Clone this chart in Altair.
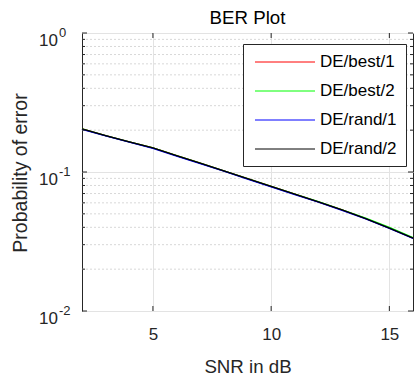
import altair as alt
import pandas as pd

# ---- data ----
snr = [2, 3, 4, 5, 6, 7, 8, 9, 10, 11, 12, 13, 14, 15, 16]
best1 = [0.204, 0.183, 0.165, 0.149, 0.131, 0.116, 0.102, 0.0896, 0.0788, 0.0692, 0.0610, 0.0534, 0.0463, 0.0396, 0.0335]
best2 = [0.204, 0.183, 0.165, 0.149, 0.131, 0.116, 0.102, 0.0895, 0.0787, 0.0692, 0.0611, 0.0535, 0.0466, 0.0399, 0.0338]
rand1 = [0.203, 0.182, 0.164, 0.148, 0.130, 0.115, 0.1015, 0.0890, 0.0782, 0.0688, 0.0606, 0.0530, 0.0460, 0.0393, 0.0333]
rand2 = [0.204, 0.183, 0.165, 0.149, 0.131, 0.116, 0.102, 0.0895, 0.0787, 0.0692, 0.0610, 0.0533, 0.0462, 0.0395, 0.0334]
series = ["DE/best/1", "DE/best/2", "DE/rand/1", "DE/rand/2"]
colors = ["#ff0000", "#00ff00", "#0000ff", "#000000"]

x_ticks = [5, 10, 15]
y_major = [0.01, 0.1, 1]
y_exp = ["-2", "-1", "0"]
y_minor = [0.02, 0.03, 0.04, 0.05, 0.06, 0.07, 0.08, 0.09,
           0.2, 0.3, 0.4, 0.5, 0.6, 0.7, 0.8, 0.9]

rows = []
for name, vals in zip(series, [best1, best2, rand1, rand2]):
    for s, v in zip(snr, vals):
        rows.append({"snr": s, "ber": v, "series": name})
df = pd.DataFrame(rows)

FONT = "Liberation Sans"
AX = "#262626"
GRID = "#e3e3e3"
W, H = 331, 278

xs = alt.Scale(domain=[2, 16], nice=False, zero=False)
ys = alt.Scale(type="log", domain=[0.01, 1], nice=False)

x_axis = alt.Axis(
    values=x_ticks, grid=True, gridColor=GRID, ticks=False, tickSize=0, domain=False,
    labelFont=FONT, labelFontSize=17, labelColor=AX, labelPadding=15,
    title="SNR in dB", titleFont=FONT, titleFontSize=18.7, titleFontWeight="normal",
    titleColor=AX, titleBaseline="alphabetic", titleY=61.5, titleX=W / 2)
y_axis = alt.Axis(
    values=y_major, labelExpr="'10'", grid=True, gridColor=GRID, ticks=False, tickSize=0,
    domain=False, labelAlign="right", labelBaseline="alphabetic", labelOffset=12,
    labelPadding=24.5, labelFont=FONT, labelFontSize=17, labelColor=AX,
    title="Probability of error", titleFont=FONT, titleFontSize=19.5,
    titleFontWeight="normal", titleColor=AX, titleBaseline="alphabetic",
    titleAngle=270, titleX=-56, titleY=139.5)

minor_grid = alt.Chart(pd.DataFrame({"v": y_minor})).mark_rule(
    color="#d8d8d8", strokeDash=[2, 2], strokeWidth=1
).encode(y=alt.Y("v:Q", scale=ys, axis=y_axis), x=alt.value(0), x2=alt.value(W))

lines = alt.Chart(df).mark_line(strokeWidth=1.3).encode(
    x=alt.X("snr:Q", scale=xs, axis=x_axis),
    y=alt.Y("ber:Q", scale=ys, axis=y_axis),
    color=alt.Color("series:N", scale=alt.Scale(domain=series, range=colors), legend=alt.Legend(
        title=None, orient="none", legendX=161, legendY=11,
        symbolType="M-3.53,0H3.53", symbolSize=289, symbolStrokeWidth=1,
        symbolOffset=24, labelOffset=26, padding=9, rowPadding=12,
        labelFont=FONT, labelFontSize=17, labelColor="black",
        strokeColor=AX, fillColor="white", cornerRadius=0, labelLimit=0)),
)

def rule_x(vals, y0, y1):
    return alt.Chart(pd.DataFrame({"v": vals})).mark_rule(color=AX, strokeWidth=1).encode(
        x=alt.X("v:Q", scale=xs, axis=x_axis), y=alt.value(y0), y2=alt.value(y1))

def rule_y(vals, x0, x1):
    return alt.Chart(pd.DataFrame({"v": vals})).mark_rule(color=AX, strokeWidth=1).encode(
        y=alt.Y("v:Q", scale=ys, axis=y_axis), x=alt.value(x0), x2=alt.value(x1))

ticks = [
    rule_x(x_ticks, H, H - 5), rule_x(x_ticks, 0, 5),
    rule_y(y_major, 0, 5), rule_y(y_major, W, W - 5),
    rule_y(y_minor, 0, 3), rule_y(y_minor, W, W - 3),
]

exps = alt.Chart(pd.DataFrame({"v": y_major, "e": y_exp})).mark_text(
    align="left", baseline="alphabetic", dy=4, fontSize=13, font=FONT, color=AX
).encode(y=alt.Y("v:Q", scale=ys, axis=y_axis), x=alt.value(-23), text="e:N")

chart = alt.layer(minor_grid, lines, *ticks, exps).properties(
    width=W, height=H,
    title=alt.TitleParams("BER Plot", font=FONT, fontSize=18.7, fontWeight="normal",
                          color="black", offset=0, dy=1, anchor="middle", frame="group"),
    padding={"left": 82, "top": 33, "right": 1, "bottom": 69},
    autosize=alt.AutoSizeParams(type="none"),
).configure_view(stroke=AX, strokeWidth=1)

chart.save("out.html", embed_options={"renderer": "svg", "actions": False})
